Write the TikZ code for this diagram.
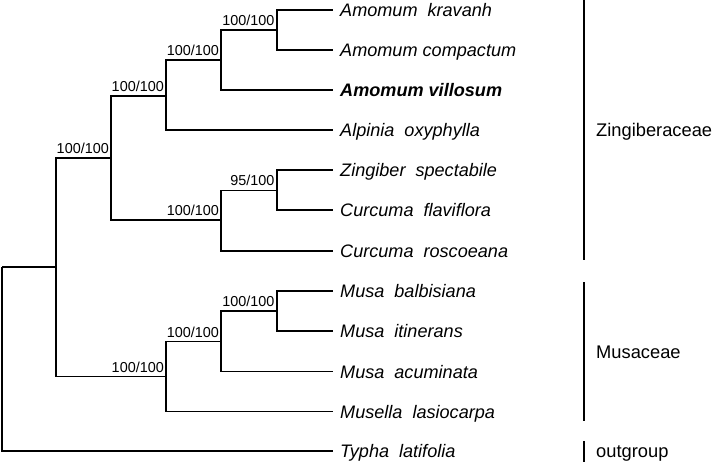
\documentclass[tikz,border=0pt]{standalone}
\usepackage{fontspec}
\setmainfont{Liberation Sans}
\newcommand{\gp}{\hspace{0.55em}}
\begin{document}
\begin{tikzpicture}[x=1pt,y=-1pt,
  branch/.style={line width=1.7pt},
  bar/.style={line width=2.2pt},
  supp/.style={anchor=base east,inner sep=0pt,font=\fontsize{14.4}{16}\selectfont},
  leaf/.style={anchor=base west,inner sep=0pt,font=\fontsize{18.1}{20}\selectfont\itshape},
  grp/.style={anchor=base west,inner sep=0pt,font=\fontsize{18.3}{20}\selectfont}]
\useasboundingbox (0,0) rectangle (714,462);
% leaf tips
\foreach \n/\y in {t1/10,t2/50,t3/90,t4/130,t5/170,t6/210,t7/251,t8/291,t9/331,t10/371.5,t11/411.5,t12/451}
  \coordinate (\n) at (333,\y);
% internal nodes
\coordinate (root) at (2,267);
\coordinate (ingr) at (56,267);
\coordinate (zing) at (111,158);
\coordinate (amal) at (166,95.7);
\coordinate (amom) at (221,60.3);
\coordinate (krco) at (276.7,30);
\coordinate (curc) at (221,220.3);
\coordinate (zicu) at (276.7,190.5);
\coordinate (musc) at (166,376.5);
\coordinate (musa) at (221,341.5);
\coordinate (bait) at (276.7,311);
% branches
\draw[branch] (root) -- (ingr);
\draw[branch] (root) |- (t12);
\draw[branch] (ingr) |- (zing);
\draw[branch] (ingr) |- (musc);
\draw[branch] (zing) |- (amal);
\draw[branch] (zing) |- (curc);
\draw[branch] (amal) |- (amom);
\draw[branch] (amal) |- (t4);
\draw[branch] (amom) |- (krco);
\draw[branch] (amom) |- (t3);
\draw[branch] (krco) |- (t1);
\draw[branch] (krco) |- (t2);
\draw[branch] (curc) |- (zicu);
\draw[branch] (curc) |- (t7);
\draw[branch] (zicu) |- (t5);
\draw[branch] (zicu) |- (t6);
\draw[branch] (musc) |- (musa);
\draw[branch] (musc) |- (t11);
\draw[branch] (musa) |- (bait);
\draw[branch] (musa) |- (t10);
\draw[branch] (bait) |- (t8);
\draw[branch] (bait) |- (t9);
% support values
\node[supp] (s1) at ([xshift=-2pt,yshift=4.5pt]zing) {100/100};
\node[supp] (s2) at ([xshift=-2pt,yshift=4.5pt]amal) {100/100};
\node[supp] (s3) at ([xshift=-2pt,yshift=4.5pt]amom) {100/100};
\node[supp] (s4) at ([xshift=-2pt,yshift=4.5pt]krco) {100/100};
\node[supp] (s5) at ([xshift=-2pt,yshift=4.5pt]zicu) {95/100};
\node[supp] (s6) at ([xshift=-2pt,yshift=4.5pt]curc) {100/100};
\node[supp] (s7) at ([xshift=-2pt,yshift=4.5pt]musc) {100/100};
\node[supp] (s8) at ([xshift=-2pt,yshift=4.5pt]musa) {100/100};
\node[supp] (s9) at ([xshift=-2pt,yshift=4.5pt]bait) {100/100};
% leaf labels
\node[leaf] (l1) at ([xshift=7pt,yshift=-6.5pt]t1) {Amomum\gp kravanh};
\node[leaf] (l2) at ([xshift=7pt,yshift=-6.5pt]t2) {Amomum compactum};
\node[leaf,font=\fontsize{18.1}{20}\selectfont\bfseries\itshape] (l3) at ([xshift=7pt,yshift=-6.5pt]t3) {Amomum villosum};
\node[leaf] (l4) at ([xshift=7pt,yshift=-6.5pt]t4) {Alpinia\gp oxyphylla};
\node[leaf] (l5) at ([xshift=7pt,yshift=-6.5pt]t5) {Zingiber\gp spectabile};
\node[leaf] (l6) at ([xshift=7pt,yshift=-6.5pt]t6) {Curcuma\gp flaviflora};
\node[leaf] (l7) at ([xshift=7pt,yshift=-6.5pt]t7) {Curcuma\gp roscoeana};
\node[leaf] (l8) at ([xshift=7pt,yshift=-6.5pt]t8) {Musa\gp balbisiana};
\node[leaf] (l9) at ([xshift=7pt,yshift=-6.5pt]t9) {Musa\gp itinerans};
\node[leaf] (l10) at ([xshift=7pt,yshift=-6.5pt]t10) {Musa\gp acuminata};
\node[leaf] (l11) at ([xshift=7pt,yshift=-6.5pt]t11) {Musella\gp lasiocarpa};
\node[leaf] (l12) at ([xshift=7pt,yshift=-6.5pt]t12) {Typha\gp latifolia};
% group bars
\coordinate (z1) at (584,0);
\coordinate (z2) at (584,260);
\coordinate (m1) at (584,282);
\coordinate (m2) at (584,421);
\coordinate (o1) at (584,441);
\coordinate (o2) at (584,462);
\draw[bar] (z1) -- (z2);
\draw[bar] (m1) -- (m2);
\draw[bar] (o1) -- (o2);
\node[grp] (g1) at (596,136.5) {Zingiberaceae};
\node[grp] (g2) at (596,358.5) {Musaceae};
\node[grp] (g3) at (596,457.5) {outgroup};
\end{tikzpicture}
\end{document}
